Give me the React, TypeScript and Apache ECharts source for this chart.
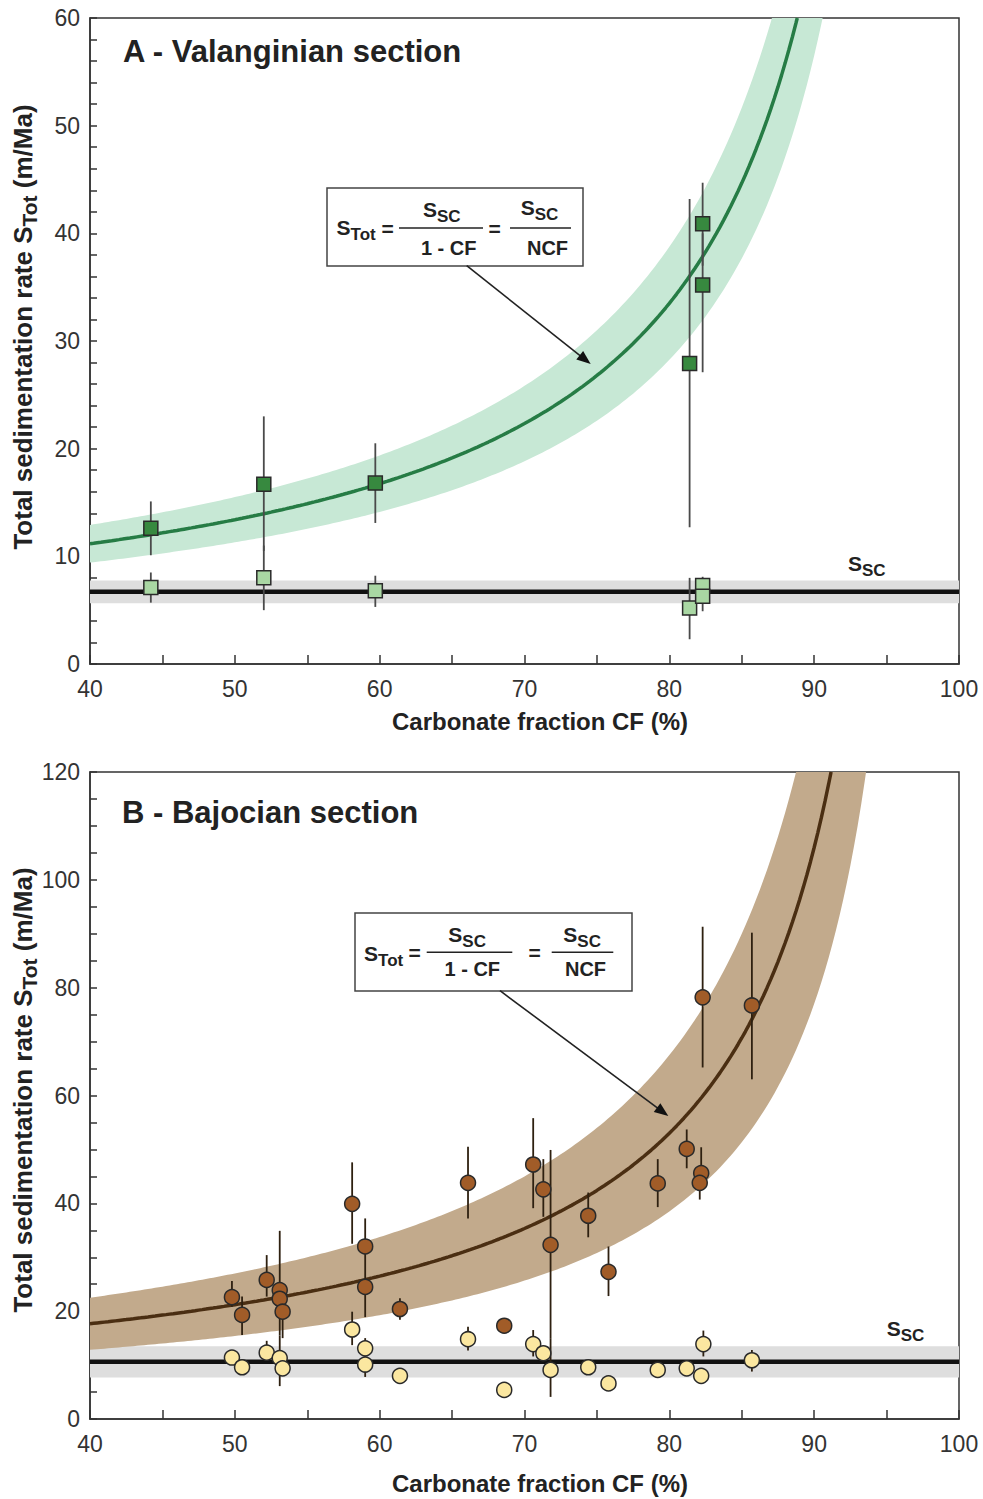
import React, { useEffect, useRef } from "react";
import * as echarts from "echarts";

// ---------------- data ----------------
const cfMin = 40;
const cfMax = 100;
const yMaxA = 60;
const yMaxB = 120;

// Panel A – Valanginian section: [CF %, rate (m/Ma), error low, error high]
const valTotal: number[][] = [
  [44.2, 12.6, 10.1, 15.1],
  [52.0, 16.7, 10.5, 23.0],
  [59.7, 16.8, 13.1, 20.5],
  [81.4, 27.9, 12.7, 43.2],
  [82.3, 35.2, 27.1, 40.0],
  [82.3, 40.9, 37.0, 44.7],
];
const valCarb: number[][] = [
  [44.2, 7.1, 5.7, 8.5],
  [52.0, 8.0, 5.0, 11.0],
  [59.7, 6.8, 5.3, 8.2],
  [81.4, 5.2, 2.3, 8.0],
  [82.3, 7.3, 6.5, 8.1],
  [82.3, 6.3, 4.9, 7.0],
];
const valSsc = 6.7;
const valSscErr = 1.05;

// Panel B – Bajocian section: [CF %, rate (m/Ma), error low, error high] (null = no bar)
const bajTotal: (number | null)[][] = [
  [49.8, 22.6, 20.8, 25.6],
  [50.5, 19.3, 15.6, 22.7],
  [52.2, 25.8, 22.7, 30.4],
  [53.1, 23.9, 15.5, 34.9],
  [53.1, 22.3, null, null],
  [53.3, 19.9, 15.0, 21.0],
  [58.1, 39.9, 32.5, 47.6],
  [59.0, 32.0, 18.9, 37.2],
  [59.0, 24.5, null, null],
  [61.4, 20.4, 18.4, 22.4],
  [66.1, 43.8, 37.2, 50.5],
  [68.6, 17.3, null, null],
  [70.6, 47.2, 39.1, 55.8],
  [71.3, 42.6, 37.5, 48.2],
  [71.8, 32.3, 15.0, 49.9],
  [74.4, 37.7, 33.7, 42.0],
  [75.8, 27.3, 22.8, 32.0],
  [79.2, 43.7, 39.3, 48.2],
  [81.2, 50.1, 46.5, 53.7],
  [82.2, 45.6, 43.0, 50.4],
  [82.1, 43.8, 40.7, 45.0],
  [82.3, 78.2, 65.2, 91.3],
  [85.7, 76.7, 63.0, 90.2],
];
const bajCarb: (number | null)[][] = [
  [49.8, 11.4, null, null],
  [50.5, 9.6, null, null],
  [52.2, 12.3, 10.8, 14.5],
  [53.1, 11.3, 6.1, 15.5],
  [53.3, 9.4, null, null],
  [58.1, 16.6, 13.7, 19.9],
  [59.0, 13.1, 11.0, 15.0],
  [59.0, 10.1, 7.8, 11.5],
  [61.4, 8.0, null, null],
  [66.1, 14.8, 12.7, 17.1],
  [68.6, 5.4, null, null],
  [70.6, 13.9, 11.6, 16.5],
  [71.3, 12.2, 10.8, 13.5],
  [71.8, 9.1, 4.1, 15.0],
  [74.4, 9.6, null, null],
  [75.8, 6.6, null, null],
  [79.2, 9.1, null, null],
  [81.2, 9.4, null, null],
  [82.2, 8.0, null, null],
  [82.35, 13.9, 11.6, 16.4],
  [85.7, 10.9, 8.8, 12.8],
];
const bajSsc = 10.6;
const bajSscErr = 2.9;

// ---------------- styling ----------------
const FONT = "'Liberation Sans', Arial, Helvetica, sans-serif";
const INK = "#222";
const AXIS = "#333";

const colA = { band: "#c7e8d5", curve: "#267c45", total: "#37893f", carb: "#a9d7a3", err: "#4a4a4a" };
const colB = { band: "#c2aa8c", curve: "#4a2e12", total: "#a15c28", carb: "#fbe7a0", err: "#2e2010" };

// model curve S_Tot = S_SC / (1 - CF), drawn up to the top of the axis
function modelCurve(s: number, yMax: number): number[][] {
  const cap = 100 * (1 - s / yMax);
  const pts: number[][] = [];
  for (let cf = cfMin; cf < cap; cf += 0.25) pts.push([cf, s / (1 - cf / 100)]);
  pts.push([cap, yMax]);
  return pts;
}
function modelBand(s: number, e: number, yMax: number): number[][] {
  const up = modelCurve(s + e, yMax);
  const lo = modelCurve(s - e, yMax).reverse();
  return up.concat(lo);
}

let measureCtx: CanvasRenderingContext2D | null = null;
function tw(text: string, size: number, weight = "bold"): number {
  if (!measureCtx) measureCtx = document.createElement("canvas").getContext("2d");
  if (!measureCtx) return text.length * size * 0.6;
  measureCtx.font = `${weight} ${size}px ${FONT}`;
  return measureCtx.measureText(text).width;
}

function txt(x: number, y: number, text: string, size: number, align = "left", weight = "bold", fill = INK): any {
  return {
    type: "text",
    x,
    y,
    z: 100,
    style: {
      text,
      font: `${weight} ${size}px ${FONT}`,
      fill,
      align,
      verticalAlign: "middle",
      textAlign: align,
      textVerticalAlign: "middle",
    },
  };
}
function subTxt(x: number, y: number, main: string, sub: string, ms = 20, ss = 16, shift = 7): any[] {
  const w = tw(main, ms);
  return [txt(x, y, main, ms), txt(x + w, y + shift, sub, ss)];
}
function hline(x1: number, x2: number, y: number, w = 1.5): any {
  return { type: "line", z: 100, shape: { x1, y1: y, x2, y2: y }, style: { stroke: INK, lineWidth: w } };
}
function arrow(x1: number, y1: number, x2: number, y2: number): any[] {
  const dx = x2 - x1, dy = y2 - y1;
  const L = Math.hypot(dx, dy);
  const ux = dx / L, uy = dy / L;
  const hl = 14, hw = 5.5;
  const bx = x2 - ux * hl, by = y2 - uy * hl;
  return [
    { type: "line", z: 100, shape: { x1, y1, x2: bx + ux * 2, y2: by + uy * 2 }, style: { stroke: INK, lineWidth: 1.6 } },
    {
      type: "polygon",
      z: 100,
      shape: { points: [[x2, y2], [bx - uy * hw, by + ux * hw], [bx + uy * hw, by - ux * hw]] },
      style: { fill: "#111" },
    },
  ];
}
function yName(cx: number, cy: number): any {
  const a = "Total sedimentation rate S", b = "Tot", c = " (m/Ma)";
  const ms = 26, ss = 21;
  const wa = tw(a, ms), wb = tw(b, ss), wc = tw(c, ms);
  const x0 = -(wa + wb + wc) / 2;
  return {
    type: "group",
    x: cx,
    y: cy,
    rotation: Math.PI / 2,
    children: [txt(x0, 0, a, ms), txt(x0 + wa, 6, b, ss), txt(x0 + wa + wb, 0, c, ms)],
  };
}

function formulaBox(
  bx: number, by: number, bw: number, bh: number,
  p: {
    sx: number; sy: number; eq1: number; eqy: number; b1: [number, number]; by1: number;
    n1x: number; n1y: number; d1x: number; dy: number; eq2: number; b2: [number, number]; by2: number;
    n2x: number; n2y: number; d2x: number;
  }
): any[] {
  return [
    { type: "rect", z: 99, shape: { x: bx, y: by, width: bw, height: bh }, style: { fill: "#fff", stroke: "#444", lineWidth: 1.5 } },
    ...subTxt(p.sx, p.sy, "S", "Tot", 21, 17, 7),
    txt(p.eq1, p.eqy, "=", 21, "center"),
    hline(p.b1[0], p.b1[1], p.by1),
    ...subTxt(p.n1x, p.n1y, "S", "SC", 21, 17, 7),
    txt(p.d1x, p.dy, "1 - CF", 20, "center"),
    txt(p.eq2, p.eqy, "=", 21, "center"),
    hline(p.b2[0], p.b2[1], p.by2),
    ...subTxt(p.n2x, p.n2y, "S", "SC", 21, 17, 7),
    txt(p.d2x, p.dy, "NCF", 20, "center"),
  ];
}

// ---------------- chart ----------------
function xAxisCfg(gridIndex: number): any {
  return {
    type: "value",
    gridIndex,
    min: cfMin,
    max: cfMax,
    interval: 10,
    axisLine: { show: true, onZero: false, lineStyle: { color: AXIS, width: 1.5 } },
    axisTick: { show: true, inside: true, length: 9, lineStyle: { color: AXIS, width: 1.5 } },
    minorTick: { show: true, splitNumber: 2, length: 9, lineStyle: { color: AXIS, width: 1.5 } },
    splitLine: { show: false },
    axisLabel: { fontSize: 23, color: "#333", fontFamily: FONT, margin: 13 },
  };
}
function yAxisCfg(gridIndex: number, max: number, interval: number, minorSplit: number): any {
  return {
    type: "value",
    gridIndex,
    min: 0,
    max,
    interval,
    axisLine: { show: true, onZero: false, lineStyle: { color: AXIS, width: 1.5 } },
    axisTick: { show: true, inside: true, length: 7, lineStyle: { color: AXIS, width: 1.5 } },
    minorTick: { show: true, splitNumber: minorSplit, length: 7, lineStyle: { color: AXIS, width: 1.5 } },
    splitLine: { show: false },
    axisLabel: { fontSize: 23, color: "#333", fontFamily: FONT, margin: 10 },
  };
}

function panelSeries(
  idx: number,
  yMax: number,
  s: number,
  e: number,
  total: (number | null)[][],
  carb: (number | null)[][],
  col: { band: string; curve: string; total: string; carb: string; err: string },
  symbol: string,
  symbolSize: number
): any[] {
  const bandPoly = modelBand(s, e, yMax);
  const errData = total.concat(carb).filter((d) => d[2] != null).map((d) => [d[0], d[2], d[3]]);
  const ax = { xAxisIndex: idx, yAxisIndex: idx };
  return [
    {
      type: "custom",
      ...ax,
      z: 1,
      silent: true,
      data: [[cfMin, s]],
      renderItem: (_p: any, api: any) => ({
        type: "polygon",
        shape: {
          points: [
            api.coord([cfMin, s - e]),
            api.coord([cfMax, s - e]),
            api.coord([cfMax, s + e]),
            api.coord([cfMin, s + e]),
          ],
        },
        style: { fill: "#dedede" },
      }),
    },
    {
      type: "line",
      ...ax,
      z: 2,
      silent: true,
      symbol: "none",
      data: [[cfMin, s], [cfMax, s]],
      lineStyle: { color: "#111", width: 4.5 },
    },
    {
      type: "custom",
      ...ax,
      z: 1,
      silent: true,
      data: [[cfMin, s]],
      renderItem: (_p: any, api: any) => ({
        type: "polygon",
        shape: { points: bandPoly.map((p) => api.coord(p)) },
        style: { fill: col.band },
      }),
    },
    {
      type: "line",
      ...ax,
      z: 2,
      silent: true,
      symbol: "none",
      smooth: false,
      data: modelCurve(s, yMax),
      lineStyle: { color: col.curve, width: 3.5 },
    },
    {
      type: "custom",
      ...ax,
      z: 3,
      silent: true,
      data: errData,
      encode: { x: 0, y: [1, 2] },
      renderItem: (_p: any, api: any) => {
        const a = api.coord([api.value(0), api.value(1)]);
        const b = api.coord([api.value(0), api.value(2)]);
        return {
          type: "line",
          shape: { x1: a[0], y1: a[1], x2: b[0], y2: b[1] },
          style: { stroke: col.err, lineWidth: 1.8 },
        };
      },
    },
    {
      type: "scatter",
      ...ax,
      z: 4,
      symbol,
      symbolSize,
      data: carb.map((d) => [d[0], d[1]]),
      itemStyle: { color: col.carb, borderColor: "#2a2a2a", borderWidth: 1.5, opacity: 1 },
    },
    {
      type: "scatter",
      ...ax,
      z: 5,
      symbol,
      symbolSize,
      data: total.map((d) => [d[0], d[1]]),
      itemStyle: { color: col.total, borderColor: "#2a2a2a", borderWidth: 1.5, opacity: 1 },
    },
  ];
}

export default function App() {
  const ref = useRef<HTMLDivElement>(null);
  useEffect(() => {
    if (!ref.current) return;
    const chart = echarts.init(ref.current, undefined, { renderer: "svg" });
    const gridStyle = { show: true, borderColor: AXIS, borderWidth: 1.5, backgroundColor: "transparent" };
    const option: any = {
      animation: false,
      backgroundColor: "#fff",
      grid: [
        { left: 90, top: 18, width: 869, height: 646, ...gridStyle },
        { left: 90, top: 772, width: 869, height: 647, ...gridStyle },
      ],
      xAxis: [xAxisCfg(0), xAxisCfg(1)],
      yAxis: [yAxisCfg(0, yMaxA, 10, 5), yAxisCfg(1, yMaxB, 20, 4)],
      series: [
        ...panelSeries(0, yMaxA, valSsc, valSscErr, valTotal, valCarb, colA, "rect", 14),
        ...panelSeries(1, yMaxB, bajSsc, bajSscErr, bajTotal, bajCarb, colB, "circle", 15),
      ],
      graphic: {
        elements: [
          txt(123, 51, "A - Valanginian section", 31),
          txt(122, 812, "B - Bajocian section", 31),
          txt(540, 721.5, "Carbonate fraction CF (%)", 24, "center"),
          txt(540, 1483, "Carbonate fraction CF (%)", 24, "center"),
          yName(23, 327),
          yName(23, 1090),
          ...subTxt(848, 563.5, "S", "SC", 21, 17, 7),
          ...subTxt(886.7, 1328, "S", "SC", 21, 17, 7),
          ...arrow(466.7, 265.7, 590.7, 364),
          ...arrow(500, 990.7, 668.3, 1116),
          ...formulaBox(327, 188, 256, 78, {
            sx: 336.5, sy: 227, eq1: 387.5, eqy: 228, b1: [399, 483], by1: 228,
            n1x: 423, n1y: 209.5, d1x: 448.7, dy: 247.5, eq2: 494.5, b2: [510, 571], by2: 228,
            n2x: 520.7, n2y: 207.5, d2x: 547.5,
          }),
          ...formulaBox(355, 913, 277, 78, {
            sx: 364, sy: 953.3, eq1: 414.5, eqy: 952.7, b1: [426.7, 512.3], by1: 952.3,
            n1x: 448.3, n1y: 934, d1x: 472.3, dy: 969, eq2: 534.7, b2: [551.7, 613.3], by2: 952.3,
            n2x: 563.3, n2y: 934, d2x: 585.5,
          }),
        ],
      },
    };
    chart.setOption(option);
    return () => chart.dispose();
  }, []);
  return (
    <div
      ref={ref}
      style={{ position: "absolute", left: 0, top: 0, width: 983, height: 1499, background: "#fff" }}
    />
  );
}
